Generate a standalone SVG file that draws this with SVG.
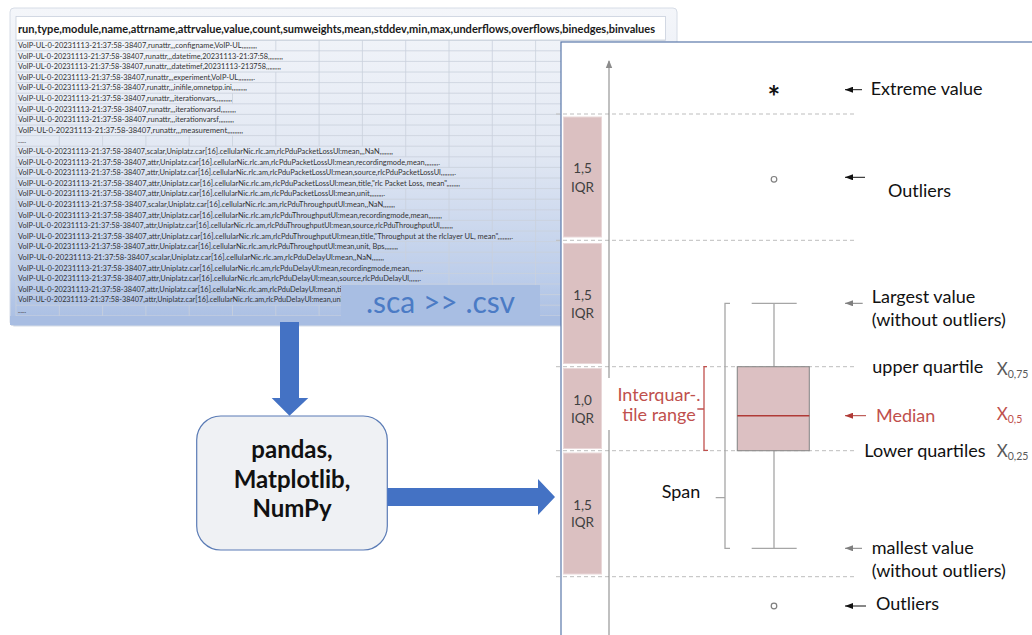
<svg xmlns="http://www.w3.org/2000/svg" width="1032" height="635" viewBox="0 0 1032 635">
  <defs>
    <linearGradient id="sheetBg" x1="0" y1="0" x2="0" y2="1">
      <stop offset="0" stop-color="#f4f6fa"/>
      <stop offset="0.45" stop-color="#e2e8f3"/>
      <stop offset="0.85" stop-color="#bccdea"/>
      <stop offset="1" stop-color="#a8bde2"/>
    </linearGradient>
    <marker id="ahBlack" viewBox="0 0 8 6" refX="8" refY="3" markerWidth="8" markerHeight="6" markerUnits="userSpaceOnUse" orient="auto">
      <path d="M0,0 L8,3 L0,6 z" fill="#111"/>
    </marker>
    <marker id="ahGray" viewBox="0 0 8 6" refX="8" refY="3" markerWidth="8" markerHeight="6" markerUnits="userSpaceOnUse" orient="auto">
      <path d="M0,0 L8,3 L0,6 z" fill="#7f7f7f"/>
    </marker>
    <marker id="ahRed" viewBox="0 0 8 6" refX="8" refY="3" markerWidth="8" markerHeight="6" markerUnits="userSpaceOnUse" orient="auto">
      <path d="M0,0 L8,3 L0,6 z" fill="#b03a36"/>
    </marker>
    <marker id="ahAxis" viewBox="0 0 8 8" refX="7" refY="4" markerWidth="8" markerHeight="8" markerUnits="userSpaceOnUse" orient="auto">
      <path d="M0,0.8 L8,4 L0,7.2 z" fill="#8c8c8c"/>
    </marker>
    <style>
      .row{font-family:Lato,"Liberation Sans",sans-serif;font-size:7px;fill:#333}
      .head{font-family:Lato,"Liberation Sans",sans-serif;font-size:12px;font-weight:bold;fill:#1a1a1a}
      .grid{fill:none;stroke:#c9d0dc;stroke-width:0.8}
      .iqr{fill:#dbc0c1;stroke:#e9d7d8;stroke-width:1}
      .iqrTxt{font-family:Lato,"Liberation Sans",sans-serif;font-size:13.5px;fill:#404040;text-anchor:middle}
      .dash{stroke:#bdbdbd;stroke-width:1;stroke-dasharray:4 3}
      .whisk{fill:none;stroke:#a6a6a6;stroke-width:1.3}
      .lbl{font-family:Lato,"Liberation Sans",sans-serif;font-size:18px;fill:#111}
      .xq{font-family:Lato,"Liberation Sans",sans-serif;font-size:17px;fill:#595959}
      .red{fill:#c0504d}
      .sub{font-size:10.5px}
      .lib{font-family:Lato,"Liberation Sans",sans-serif;font-size:24px;font-weight:bold;fill:#111;text-anchor:middle}
      .blue{fill:#4472c4}
      .pt{fill:#fff;stroke:#7f7f7f;stroke-width:1.2}
    </style>
  </defs>

  <!-- exported result table (.csv) -->
  <g id="csv-table">
    <rect x="10" y="8" width="667" height="318" rx="4" fill="url(#sheetBg)" stroke="#d6dce6" stroke-width="1"/>
    <rect x="16" y="16.5" width="649.5" height="23.7" fill="#ffffff" stroke="#c9d0dc" stroke-width="0.8"/>
    <text class="head" x="18" y="33" textLength="637" lengthAdjust="spacingAndGlyphs">run,type,module,name,attrname,attrvalue,value,count,sumweights,mean,stddev,min,max,underflows,overflows,binedges,binvalues</text>
    <!-- row lines -->
    <path class="grid" d="M16,40.2H665.5M16,50.8H665.5M16,61.4H665.5M16,72H665.5M16,82.6H665.5M16,93.2H665.5M16,103.8H665.5M16,114.4H665.5M16,125H665.5M16,135.6H665.5M16,146.2H665.5M16,156.8H665.5M16,167.4H665.5M16,178H665.5M16,188.6H665.5M16,199.2H665.5M16,209.8H665.5M16,220.4H665.5M16,231H665.5M16,241.6H665.5M16,252.2H665.5M16,262.8H665.5M16,273.4H665.5M16,284H665.5M16,294.6H665.5M16,305.2H665.5M16,315.8H665.5"/>
    <!-- column lines, broken where cell text runs across -->
    <path class="grid" d="M16,40.2V315.8
      M59.3,135.6V146.2M59.3,305.2V315.8
      M102.6,135.6V146.2M102.6,305.2V315.8
      M145.9,135.6V146.2M145.9,305.2V315.8
      M189.2,135.6V146.2M189.2,305.2V315.8
      M232.5,93.2V103.8M232.5,135.6V146.2M232.5,305.2V315.8
      M275.8,40.2V50.8M275.8,72V146.2M275.8,305.2V315.8
      M319.1,40.2V146.2M319.1,305.2V315.8
      M362.4,40.2V146.2M362.4,284V315.8
      M405.7,40.2V156.8M405.7,188.6V209.8M405.7,241.6V262.8M405.7,284V315.8
      M449,40.2V167.4M449,188.6V220.4M449,241.6V315.8
      M492.3,40.2V231M492.3,241.6V315.8
      M535.6,40.2V315.8"/>
    <text class="row" x="18" y="48" textLength="239" lengthAdjust="spacingAndGlyphs">VoIP-UL-0-20231113-21:37:58-38407,runattr,,,configname,VoIP-UL,,,,,,,,,</text>
    <text class="row" x="18" y="58.6" textLength="265" lengthAdjust="spacingAndGlyphs">VoIP-UL-0-20231113-21:37:58-38407,runattr,,,datetime,20231113-21:37:58,,,,,,,,,</text>
    <text class="row" x="18" y="69.2" textLength="263" lengthAdjust="spacingAndGlyphs">VoIP-UL-0-20231113-21:37:58-38407,runattr,,,datetimef,20231113-213758,,,,,,,,,</text>
    <text class="row" x="18" y="79.8" textLength="237" lengthAdjust="spacingAndGlyphs">VoIP-UL-0-20231113-21:37:58-38407,runattr,,,experiment,VoIP-UL,,,,,,,,,.</text>
    <text class="row" x="18" y="90.4" textLength="229" lengthAdjust="spacingAndGlyphs">VoIP-UL-0-20231113-21:37:58-38407,runattr,,,inifile,omnetpp.ini,,,,,,,,,</text>
    <text class="row" x="18" y="101" textLength="214" lengthAdjust="spacingAndGlyphs">VoIP-UL-0-20231113-21:37:58-38407,runattr,,,iterationvars,,,,,,,,,,</text>
    <text class="row" x="18" y="111.6" textLength="218" lengthAdjust="spacingAndGlyphs">VoIP-UL-0-20231113-21:37:58-38407,runattr,,,iterationvarsd,,,,,,,,,</text>
    <text class="row" x="18" y="122.2" textLength="216" lengthAdjust="spacingAndGlyphs">VoIP-UL-0-20231113-21:37:58-38407,runattr,,,iterationvarsf,,,,,,,,,</text>
    <text class="row" x="18" y="132.8" textLength="225" lengthAdjust="spacingAndGlyphs">VoIP-UL-0-20231113-21:37:58-38407,runattr,,,measurement,,,,,,,,,</text>
    <text class="row" x="18" y="143.4" textLength="8" lengthAdjust="spacingAndGlyphs">......</text>
    <text class="row" x="18" y="154" textLength="375" lengthAdjust="spacingAndGlyphs">VoIP-UL-0-20231113-21:37:58-38407,scalar,Uniplatz.car[16].cellularNic.rlc.am,rlcPduPacketLossUl:mean,,,NaN,,,,,,,,</text>
    <text class="row" x="18" y="164.6" textLength="422" lengthAdjust="spacingAndGlyphs">VoIP-UL-0-20231113-21:37:58-38407,attr,Uniplatz.car[16].cellularNic.rlc.am,rlcPduPacketLossUl:mean,recordingmode,mean,,,,,,,,.</text>
    <text class="row" x="18" y="175.2" textLength="438" lengthAdjust="spacingAndGlyphs">VoIP-UL-0-20231113-21:37:58-38407,attr,Uniplatz.car[16].cellularNic.rlc.am,rlcPduPacketLossUl:mean,source,rlcPduPacketLossUl,,,,,,,,.</text>
    <text class="row" x="18" y="185.8" textLength="442" lengthAdjust="spacingAndGlyphs">VoIP-UL-0-20231113-21:37:58-38407,attr,Uniplatz.car[16].cellularNic.rlc.am,rlcPduPacketLossUl:mean,title,"rlc Packet Loss, mean",,,,,,,,</text>
    <text class="row" x="18" y="196.4" textLength="367" lengthAdjust="spacingAndGlyphs">VoIP-UL-0-20231113-21:37:58-38407,attr,Uniplatz.car[16].cellularNic.rlc.am,rlcPduPacketLossUl:mean,unit,,,,,,,,.</text>
    <text class="row" x="18" y="207" textLength="377" lengthAdjust="spacingAndGlyphs">VoIP-UL-0-20231113-21:37:58-38407,scalar,Uniplatz.car[16].cellularNic.rlc.am,rlcPduThroughputUl:mean,,NaN,,,,,,,</text>
    <text class="row" x="18" y="217.6" textLength="424" lengthAdjust="spacingAndGlyphs">VoIP-UL-0-20231113-21:37:58-38407,attr,Uniplatz.car[16].cellularNic.rlc.am,rlcPduThroughputUl:mean,recordingmode,mean,,,,,,,,</text>
    <text class="row" x="18" y="228.2" textLength="435" lengthAdjust="spacingAndGlyphs">VoIP-UL-0-20231113-21:37:58-38407,attr,Uniplatz.car[16].cellularNic.rlc.am,rlcPduThroughputUl:mean,source,rlcPduThroughputUl,,,,,,,,</text>
    <text class="row" x="18" y="238.8" textLength="495" lengthAdjust="spacingAndGlyphs">VoIP-UL-0-20231113-21:37:58-38407,attr,Uniplatz.car[16].cellularNic.rlc.am,rlcPduThroughputUl:mean,title,"Throughput at the rlclayer UL, mean",,,,,,,,.</text>
    <text class="row" x="18" y="249.4" textLength="380" lengthAdjust="spacingAndGlyphs">VoIP-UL-0-20231113-21:37:58-38407,attr,Uniplatz.car[16].cellularNic.rlc.am,rlcPduThroughputUl:mean,unit, Bps,,,,,,,,</text>
    <text class="row" x="18" y="260" textLength="366" lengthAdjust="spacingAndGlyphs">VoIP-UL-0-20231113-21:37:58-38407,scalar,Uniplatz.car[16].cellularNic.rlc.am,rlcPduDelayUl:mean,,NaN,,,,,,,</text>
    <text class="row" x="18" y="270.6" textLength="405" lengthAdjust="spacingAndGlyphs">VoIP-UL-0-20231113-21:37:58-38407,attr,Uniplatz.car[16].cellularNic.rlc.am,rlcPduDelayUl:mean,recordingmode,mean,,,,,,,.</text>
    <text class="row" x="18" y="281.2" textLength="403" lengthAdjust="spacingAndGlyphs">VoIP-UL-0-20231113-21:37:58-38407,attr,Uniplatz.car[16].cellularNic.rlc.am,rlcPduDelayUl:mean,source,rlcPduDelayUl,,,,,,.</text>
    <text class="row" x="18" y="291.8" textLength="332" lengthAdjust="spacingAndGlyphs">VoIP-UL-0-20231113-21:37:58-38407,attr,Uniplatz.car[16].cellularNic.rlc.am,rlcPduDelayUl:mean,title</text>
    <text class="row" x="18" y="302.4" textLength="327" lengthAdjust="spacingAndGlyphs">VoIP-UL-0-20231113-21:37:58-38407,attr,Uniplatz.car[16].cellularNic.rlc.am,rlcPduDelayUl:mean,unit</text>
    <text class="row" x="18" y="313" textLength="8" lengthAdjust="spacingAndGlyphs">......</text>
    <rect x="10" y="316" width="667" height="9" fill="#a8bde2"/>
  </g>

  <!-- conversion tag -->
  <g id="sca-label">
    <rect x="341" y="285" width="199" height="37" fill="#a8bee3"/>
    <text x="440.5" y="313" text-anchor="middle" font-family="Lato, 'Liberation Sans', sans-serif" font-size="30" fill="#4b7bc5">.sca &gt;&gt; .csv</text>
  </g>

  <!-- Python libraries -->
  <g id="libraries">
    <rect x="196.7" y="416" width="190.6" height="134" rx="24" fill="#eff1f4" stroke="#5a7bb5" stroke-width="1.2"/>
    <text class="lib" x="292" y="458">pandas,</text>
    <text class="lib" x="292" y="488">Matplotlib,</text>
    <text class="lib" x="292" y="517">NumPy</text>
  </g>

  <!-- box plot explanation -->
  <g id="boxplot">
    <rect x="561" y="42" width="480" height="600" fill="#ffffff" stroke="#5a78aa" stroke-width="1.2"/>
    <!-- 1.5 / 1.0 IQR scale -->
    <rect class="iqr" x="563.5" y="117" width="38" height="120"/>
    <rect class="iqr" x="563.5" y="243.5" width="38" height="120"/>
    <rect class="iqr" x="563.5" y="368.5" width="38" height="80"/>
    <rect class="iqr" x="563.5" y="453" width="38" height="121"/>
    <text class="iqrTxt" x="582.5" y="172.7">1,5</text>
    <text class="iqrTxt" x="582.5" y="191.7">IQR</text>
    <text class="iqrTxt" x="582.5" y="300">1,5</text>
    <text class="iqrTxt" x="582.5" y="318.3">IQR</text>
    <text class="iqrTxt" x="582.5" y="405">1,0</text>
    <text class="iqrTxt" x="582.5" y="422.7">IQR</text>
    <text class="iqrTxt" x="582.5" y="510">1,5</text>
    <text class="iqrTxt" x="582.5" y="527.3">IQR</text>
    <!-- fence lines -->
    <line class="dash" x1="556" y1="114" x2="856" y2="114"/>
    <line class="dash" x1="556" y1="240.3" x2="856" y2="240.3"/>
    <line class="dash" x1="556" y1="366.7" x2="856" y2="366.7"/>
    <line class="dash" x1="556" y1="450.7" x2="856" y2="450.7"/>
    <line class="dash" x1="556" y1="576.7" x2="856" y2="576.7"/>
    <!-- value axis -->
    <line x1="609" y1="378" x2="609" y2="61" stroke="#8c8c8c" stroke-width="1.1" marker-end="url(#ahAxis)"/>
    <line x1="609" y1="430" x2="609" y2="635" stroke="#8c8c8c" stroke-width="1.1"/>
    <!-- whiskers and box -->
    <path class="whisk" d="M774,303.3V366.7M751.7,303.3H796.7M774,450.7V548.3M751.7,548.3H796.7"/>
    <rect x="737.3" y="366.7" width="72" height="84" fill="#dcc0c2" stroke="#8a8a8a" stroke-width="1.1"/>
    <line x1="737.3" y1="415.7" x2="809.3" y2="415.7" stroke="#b03a36" stroke-width="1.5"/>
    <!-- span bracket -->
    <path class="whisk" d="M730,303.3H725V548.3H730M725,497.7H715.7"/>
    <!-- interquartile range bracket -->
    <path d="M707,366.7H704V450.3H708M704,409H697.3" fill="none" stroke="#c0504d" stroke-width="1.3"/>
    <text class="lbl red" x="659" y="401" text-anchor="middle" font-size="17">Interquar-.</text>
    <text class="lbl red" x="659" y="421" text-anchor="middle" font-size="17">tile range</text>
    <text class="lbl" x="661.7" y="498.3" font-size="20">Span</text>
    <!-- extreme value and outliers -->
    <text x="774" y="108" text-anchor="middle" font-family="Lato, 'Liberation Sans', sans-serif" font-size="30" font-weight="bold" fill="#111">*</text>
    <circle class="pt" cx="774" cy="179.3" r="2.8"/>
    <circle class="pt" cx="774" cy="606" r="2.8"/>
    <!-- labels -->
    <text class="lbl" x="870.7" y="95">Extreme value</text>
    <text class="lbl" x="888" y="196.7">Outliers</text>
    <text class="lbl" x="871.7" y="303.3">Largest value</text>
    <text class="lbl" x="871.7" y="325.7">(without outliers)</text>
    <text class="lbl" x="872.3" y="373">upper quartile</text>
    <text class="xq" x="996.7" y="375">X<tspan class="sub" dy="3">0,75</tspan></text>
    <text class="lbl red" x="876" y="421.7">Median</text>
    <text class="xq" x="996.7" y="420" fill="#c0504d" style="fill:#c0504d">X<tspan class="sub" dy="3">0,5</tspan></text>
    <text class="lbl" x="864.3" y="456.7">Lower quartiles</text>
    <text class="xq" x="996.7" y="457.3">X<tspan class="sub" dy="3">0,25</tspan></text>
    <text class="lbl" x="871.7" y="554">mallest value</text>
    <text class="lbl" x="871.7" y="576.7">(without outliers)</text>
    <text class="lbl" x="876" y="610">Outliers</text>
  </g>

  <!-- connectors -->
  <g id="connectors">
    <path class="blue" d="M280,322H299V398H308.3L289.5,415.7L271.7,398H280z"/>
    <path class="blue" d="M387.3,488H538V479L555,497L538,515V506H387.3z"/>
    <line x1="862" y1="89.7" x2="845" y2="89.7" stroke="#111" stroke-width="1" marker-end="url(#ahBlack)"/>
    <line x1="865" y1="177.3" x2="845" y2="177.3" stroke="#111" stroke-width="1" marker-end="url(#ahBlack)"/>
    <line x1="862.7" y1="303.3" x2="845" y2="303.3" stroke="#7f7f7f" stroke-width="1" marker-end="url(#ahGray)"/>
    <line x1="866" y1="415.7" x2="845" y2="415.7" stroke="#b03a36" stroke-width="1" marker-end="url(#ahRed)"/>
    <line x1="862" y1="548.3" x2="845" y2="548.3" stroke="#7f7f7f" stroke-width="1" marker-end="url(#ahGray)"/>
    <line x1="866" y1="606" x2="845" y2="606" stroke="#111" stroke-width="1" marker-end="url(#ahBlack)"/>
  </g>
</svg>
